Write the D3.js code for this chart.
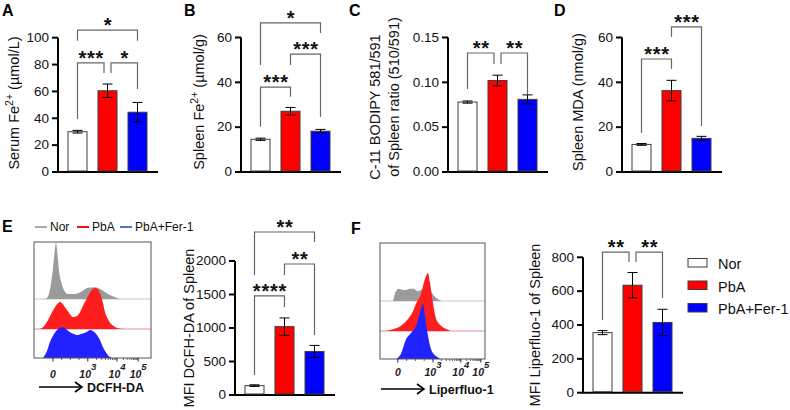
<!DOCTYPE html>
<html>
<head>
<meta charset="utf-8">
<script src="https://cdn.jsdelivr.net/npm/d3@7"></script>
<style>
  body { margin: 0; background: #fff; }
  svg { font-family: "Liberation Sans", Arial, sans-serif; }
</style>
</head>
<body>
<div id="chart"></div>
<script>
const groups = ["Nor", "PbA", "PbA+Fer-1"];
const barFill = ["#ffffff", "#ff0000", "#0000ff"];

// bar values (mean, error)
const serumMean = [30, 60.5, 44.5], serumErr = [1, 5, 7.3];
const spleenFeMean = [14.6, 27.1, 18.2], spleenFeErr = [0.5, 1.7, 0.8];
const bodipyMean = [0.078, 0.102, 0.081], bodipyErr = [0.0012, 0.006, 0.005];
const mdaMean = [12.3, 36.3, 15.0], mdaErr = [0.4, 4.6, 0.9];
const dcfhMean = [140, 1020, 650], dcfhErr = [12, 130, 90];
const liperMean = [355, 635, 415], liperErr = [12, 75, 78];

// significance brackets: [from, to, label, level, left leg end, right leg end] (data units)
const serumSig = [[0, 1, "***", 81.2, 39.5, 73.7], [1, 2, "*", 81.2, 73.7, 61.8], [0, 2, "*", 105.7, 97.7, 97.7]];
const spleenFeSig = [[0, 1, "***", 37.9, 20.2, 33.6], [1, 2, "***", 52.6, 47.7, 24.5], [0, 2, "*", 66.5, 47.7, 62]];
const bodipySig = [[0, 1, "**", 0.1327, 0.0926, 0.1204], [1, 2, "**", 0.1327, 0.1204, 0.087]];
const mdaSig = [[0, 1, "***", 50.4, 17.4, 45.9], [1, 2, "***", 64.7, 60.2, 20.5]];
const dcfhSig = [[0, 1, "****", 1478, 299, 1313], [1, 2, "**", 1955, 1791, 896], [0, 2, "**", 2433, 1791, 2284]];
const liperSig = [[0, 1, "**", 831, 429, 772], [1, 2, "**", 831, 772, 559]];

// flow histograms: channel position (0-100 across plot) and % height
const eNorX = [9.4, 12.0, 14.5, 16.2, 17.5, 18.8, 20.1, 21.4, 23.1, 25.6, 29.1, 35.0, 41.0, 46.2, 52.1, 58.1, 63.2, 68.4, 73.5];
const eNorY = [0, 5, 27, 54, 82, 100, 79, 50, 32, 16, 9, 9, 14, 20, 21, 16, 9, 4, 0];
const ePbaX = [5.1, 8.5, 12.0, 15.4, 17.9, 20.5, 22.2, 23.9, 26.5, 29.9, 33.3, 36.8, 39.3, 42.7, 45.3, 48.7, 52.1, 54.7, 56.4, 59.0, 60.7, 63.2, 65.0, 68.4, 70.9, 77.8];
const ePbaY = [0, 5, 16, 30, 39, 46, 48, 46, 39, 29, 21, 23, 30, 45, 55, 68, 73, 71, 64, 46, 30, 18, 11, 5, 2, 0];
const eFerX = [7.7, 11.1, 13.7, 17.1, 19.7, 22.2, 24.8, 27.4, 30.8, 34.2, 36.8, 40.2, 43.6, 46.2, 47.9, 50.4, 53.8, 56.4, 58.1, 60.7, 63.2, 66.7];
const eFerY = [0, 12.5, 29, 43, 50, 54, 55, 52, 46, 43, 41, 43, 45, 48, 50, 48, 41, 32, 23, 12.5, 5, 0];

const fNorX = [12.4, 15.2, 18.1, 21.9, 24.8, 28.6, 31.4, 36.2, 41.9, 45.7, 51.4, 56.2, 59.0];
const fNorY = [0, 17, 21, 19, 19, 21, 21, 17, 21, 21, 9, 2, 0];
const fPbaX = [4.8, 12.4, 18.1, 24.8, 31.4, 34.3, 39.0, 42.9, 45.7, 47.6, 50.5, 53.3, 58.1, 64.8, 66.7];
const fPbaY = [0, 3, 7, 17, 34, 47, 64, 90, 100, 83, 48, 22, 9, 2, 0];
const fFerX = [15.2, 20, 24.8, 29.5, 34.3, 39.0, 41.0, 42.9, 45.7, 48.6, 53.3, 58.1];
const fFerY = [0, 9, 34, 45, 57, 86, 95, 74, 40, 17, 5, 0];

const histTickLabels = ["0", "3", "4", "5"];
const eTickPos = [16.2, 46, 71, 89];
const fTickPos = [17, 50.5, 77, 96];

const svg = d3.select("#chart").append("svg")
  .attr("width", 790).attr("height", 410);

function panelLetter(t, x, y) {
  svg.append("text").attr("x", x).attr("y", y).text(t)
    .attr("font-size", 16).attr("font-weight", "bold").attr("fill", "#000");
}

function barPanel(p) {
  const y = d3.scaleLinear().domain([0, p.max]).range([p.y0, p.y1]);
  const x = d3.scalePoint().domain(groups).range([p.ax + 19.5, p.ax + 79.5]);
  const g = svg.append("g");
  const bw = 19;

  g.append("g").attr("transform", "translate(" + p.ax + ",0)")
    .call(d3.axisLeft(y).tickValues(p.ticks).tickFormat(p.fmt)
      .tickSizeInner(6).tickSizeOuter(0).tickPadding(3).offset(0))
    .call(a => {
      a.select(".domain").attr("stroke", "#000").attr("stroke-width", 2);
      a.selectAll(".tick line").attr("stroke", "#000").attr("stroke-width", 2);
      a.selectAll(".tick text").attr("font-size", 13.5).attr("fill", "#111")
        .attr("font-family", "Liberation Sans, Arial, sans-serif");
    });
  g.append("line").attr("x1", p.ax - 1).attr("x2", p.ax + 100)
    .attr("y1", p.y0).attr("y2", p.y0).attr("stroke", "#000").attr("stroke-width", 2);

  g.selectAll("rect.bar").data(p.mean).enter().append("rect")
    .attr("x", (d, i) => x(groups[i]) - bw / 2)
    .attr("y", d => y(d))
    .attr("width", bw)
    .attr("height", d => p.y0 - 1 - y(d))
    .attr("fill", (d, i) => barFill[i])
    .attr("stroke", "#3c3c3c").attr("stroke-width", 1);

  p.mean.forEach((m, i) => {
    const cx = x(groups[i]), e = p.err[i];
    g.append("line").attr("x1", cx).attr("x2", cx)
      .attr("y1", y(m + e)).attr("y2", y(m - e)).attr("stroke", "#000").attr("stroke-width", 1);
    [m + e, m - e].forEach(v => {
      g.append("line").attr("x1", cx - 5).attr("x2", cx + 5)
        .attr("y1", y(v)).attr("y2", y(v)).attr("stroke", "#000").attr("stroke-width", 1);
    });
  });

  p.sig.forEach(s => {
    const [a, b, label, lvl, la, lb] = s;
    const shared = end => p.sig.some(o => o !== s && o[3] === lvl && (o[0] === end || o[1] === end));
    const xa = x(groups[a]) + (shared(a) ? 3.5 : 0);
    const xb = x(groups[b]) - (shared(b) ? 3.5 : 0);
    g.append("path")
      .attr("d", "M" + xa + "," + y(la) + "V" + y(lvl) + "H" + xb + "V" + y(lb))
      .attr("fill", "none").attr("stroke", "#666").attr("stroke-width", 1.2);
    g.append("text").attr("x", (xa + xb) / 2 + 0.5).attr("y", y(lvl) + 2)
      .attr("text-anchor", "middle").attr("font-size", 20).attr("font-weight", "bold")
      .attr("letter-spacing", 0.8).attr("fill", "#111").text(label);
  });

  p.label.forEach(l => {
    const t = g.append("text")
      .attr("transform", "translate(" + l.x + "," + l.y + ") rotate(-90)")
      .attr("text-anchor", "middle").attr("font-size", 14.5).attr("fill", "#111");
    l.parts.forEach(pt => {
      if (pt.sup) {
        t.append("tspan").attr("font-size", 10.5).attr("dy", -6).text(pt.t);
      } else {
        t.append("tspan").attr("dy", pt.after ? 6 : 0).text(pt.t);
      }
    });
  });
}

function histPanel(h) {
  const x = d3.scaleLinear().domain([0, 100]).range([h.x0, h.x1]);
  const yh = d3.scaleLinear().domain([0, 100]).range([0, h.hpx]);
  const g = svg.append("g");
  const cols = ["#9b9b9b", "#ff1e1e", "#2222ff"];
  const baseCols = ["#c8c8c8", "#e89090", null];

  h.series.forEach((s, i) => {
    const base = h.bases[i];
    if (baseCols[i]) {
      g.append("line").attr("x1", h.x0).attr("x2", h.x1).attr("y1", base).attr("y2", base)
        .attr("stroke", baseCols[i]).attr("stroke-width", 1);
    }
    const area = d3.area()
      .x(d => x(d[0])).y0(base).y1(d => base - yh(d[1]))
      .curve(d3.curveMonotoneX);
    g.append("path").datum(d3.zip(s[0], s[1])).attr("d", area).attr("fill", cols[i]);
  });

  g.append("rect").attr("x", h.x0).attr("y", h.top)
    .attr("width", h.x1 - h.x0).attr("height", h.bottom - h.top)
    .attr("fill", "none").attr("stroke", "#555").attr("stroke-width", 1);

  // bottom ticks
  const minor = [];
  for (let k = 0; k < h.ticks.length - 1; k++) {
    const a = h.ticks[k], b = h.ticks[k + 1];
    if (k === 0) {
      [0.25, 0.5, 0.75].forEach(f => minor.push(a + (b - a) * f));
    } else {
      for (let m = 2; m < 10; m++) minor.push(a + (b - a) * Math.log10(m));
    }
  }
  g.selectAll("line.minor").data(minor).enter().append("line")
    .attr("x1", d => x(d)).attr("x2", d => x(d))
    .attr("y1", h.bottom).attr("y2", h.bottom + 2).attr("stroke", "#444").attr("stroke-width", 0.8);
  g.selectAll("line.major").data(h.ticks).enter().append("line")
    .attr("x1", d => x(d)).attr("x2", d => x(d))
    .attr("y1", h.bottom).attr("y2", h.bottom + 3.5).attr("stroke", "#222").attr("stroke-width", 1);

  h.ticks.forEach((t, i) => {
    const lab = histTickLabels[i];
    const tx = g.append("text").attr("x", x(t)).attr("y", h.labelY)
      .attr("text-anchor", "middle").attr("font-size", 10.5)
      .attr("font-weight", "bold").attr("font-style", "italic").attr("fill", "#222");
    if (lab === "0") {
      tx.text("0");
    } else {
      tx.append("tspan").text("10");
      tx.append("tspan").attr("font-size", 9.5).attr("dy", -8).attr("dx", 0).text(lab);
    }
  });

  g.append("line").attr("x1", h.arrow[0]).attr("x2", h.arrow[1])
    .attr("y1", h.arrow[2]).attr("y2", h.arrow[2]).attr("stroke", "#000").attr("stroke-width", 1.6);
  g.append("path")
    .attr("d", "M" + (h.arrow[1] - 7) + "," + (h.arrow[2] - 5) + "L" + h.arrow[1] + "," + h.arrow[2] +
      "L" + (h.arrow[1] - 7) + "," + (h.arrow[2] + 5))
    .attr("fill", "none").attr("stroke", "#000").attr("stroke-width", 1.6);
  g.append("text").attr("x", h.arrow[1] + 5).attr("y", h.arrow[2] + 5)
    .attr("font-size", 12.5).attr("font-weight", "bold").attr("fill", "#111").text(h.title);
}

panelLetter("A", 2, 16);
panelLetter("B", 184, 16);
panelLetter("C", 349, 16);
panelLetter("D", 554, 16);
panelLetter("E", 2, 232);
panelLetter("F", 351, 234);

const topFmt = d3.format("d");
barPanel({ ax: 58, y0: 172, y1: 37.7, max: 100, ticks: [0, 20, 40, 60, 80, 100], fmt: topFmt,
  mean: serumMean, err: serumErr, sig: serumSig,
  label: [{ x: 19, y: 103, parts: [{ t: "Serum Fe" }, { t: "2+", sup: true }, { t: " (µmol/L)", after: true }] }] });
barPanel({ ax: 241, y0: 172, y1: 37.5, max: 60, ticks: [0, 20, 40, 60], fmt: topFmt,
  mean: spleenFeMean, err: spleenFeErr, sig: spleenFeSig,
  label: [{ x: 204, y: 102, parts: [{ t: "Spleen Fe" }, { t: "2+", sup: true }, { t: " (µmol/g)", after: true }] }] });
barPanel({ ax: 448, y0: 172, y1: 37.5, max: 0.15, ticks: [0, 0.05, 0.1, 0.15], fmt: d3.format(".2f"),
  mean: bodipyMean, err: bodipyErr, sig: bodipySig,
  label: [{ x: 380, y: 107, parts: [{ t: "C-11 BODIPY 581/591" }] },
          { x: 399, y: 97, parts: [{ t: "of Spleen ratio (510/591)" }] }] });
barPanel({ ax: 622, y0: 172, y1: 37.5, max: 60, ticks: [0, 20, 40, 60], fmt: topFmt,
  mean: mdaMean, err: mdaErr, sig: mdaSig,
  label: [{ x: 583, y: 102, parts: [{ t: "Spleen MDA (nmol/g)" }] }] });
barPanel({ ax: 235, y0: 395, y1: 261, max: 2000, ticks: [0, 500, 1000, 1500, 2000], fmt: topFmt,
  mean: dcfhMean, err: dcfhErr, sig: dcfhSig,
  label: [{ x: 194, y: 328, parts: [{ t: "MFI DCFH-DA of Spleen" }] }] });
barPanel({ ax: 583, y0: 392.7, y1: 257.3, max: 800, ticks: [0, 200, 400, 600, 800], fmt: topFmt,
  mean: liperMean, err: liperErr, sig: liperSig,
  label: [{ x: 540, y: 325, parts: [{ t: "MFI Liperfluo-1 of Spleen" }] }] });

histPanel({ x0: 34, x1: 151, top: 242, bottom: 358, bases: [299, 329, 358], hpx: 56,
  series: [[eNorX, eNorY], [ePbaX, ePbaY], [eFerX, eFerY]],
  ticks: eTickPos, labelY: 378, arrow: [39, 82, 387], title: "DCFH-DA" });
histPanel({ x0: 380, x1: 485, top: 243, bottom: 359, bases: [301, 331, 359], hpx: 58,
  series: [[fNorX, fNorY], [fPbaX, fPbaY], [fFerX, fFerY]],
  ticks: fTickPos, labelY: 376, arrow: [381, 424, 389], title: "Liperfluo-1" });

// E legend
const eLegCols = ["#aaaaaa", "#ee1111", "#4a72d8"];
const eLegX = [35, 77, 120];
groups.forEach((gname, i) => {
  svg.append("line").attr("x1", eLegX[i]).attr("x2", eLegX[i] + 12)
    .attr("y1", 227).attr("y2", 227).attr("stroke", eLegCols[i]).attr("stroke-width", 2);
  svg.append("text").attr("x", eLegX[i] + 15).attr("y", 231)
    .attr("font-size", 12).attr("fill", "#111").text(gname);
});

// F legend
groups.forEach((gname, i) => {
  const yy = 258.5 + i * 22.5;
  svg.append("rect").attr("x", 688).attr("y", yy).attr("width", 19).attr("height", 8.5)
    .attr("fill", barFill[i]).attr("stroke", "#3c3c3c").attr("stroke-width", 1);
  svg.append("text").attr("x", 718).attr("y", yy + 10.5)
    .attr("font-size", 14.5).attr("fill", "#111").text(gname);
});
</script>
</body>
</html>
